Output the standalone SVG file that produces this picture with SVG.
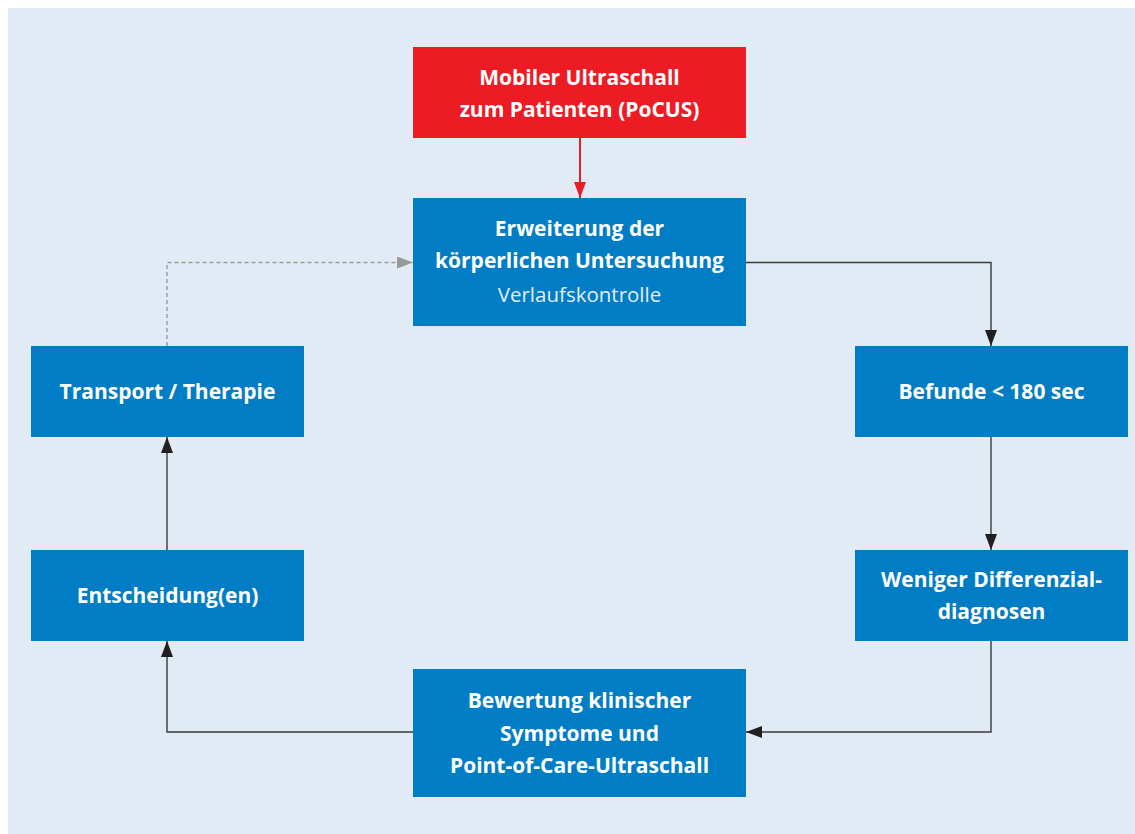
<svg xmlns="http://www.w3.org/2000/svg" width="1135" height="834" viewBox="0 0 1135 834">
<style>
.bg{fill:#e1ebf5}
.node{fill:#007dc5}
.red{fill:#ed1c24}
.t{font-family:"Open Sans","Liberation Sans",sans-serif;font-size:21px;font-weight:bold;fill:#ffffff;text-anchor:middle}
.s{font-family:"Open Sans","Liberation Sans",sans-serif;font-size:20.5px;font-weight:normal;fill:#e3eef8;text-anchor:middle}
.c{fill:none;stroke:#3a3a3c;stroke-width:1.4}
.d{fill:none;stroke:#9a9a9a;stroke-width:1.4;stroke-dasharray:4 3}
.r{fill:none;stroke:#ed1c24;stroke-width:2}
</style>
<defs>
<marker id="ab" markerWidth="16" markerHeight="12" refX="16" refY="6" viewBox="0 0 16 12" markerUnits="userSpaceOnUse" orient="auto"><path d="M0,0 L16,6 L0,12 Z" fill="#231f20"/></marker>
<marker id="ag" markerWidth="16" markerHeight="12" refX="16" refY="6" viewBox="0 0 16 12" markerUnits="userSpaceOnUse" orient="auto"><path d="M0,0 L16,6 L0,12 Z" fill="#999999"/></marker>
<marker id="ar" markerWidth="16" markerHeight="12" refX="16" refY="6" viewBox="0 0 16 12" markerUnits="userSpaceOnUse" orient="auto"><path d="M0,0 L16,6 L0,12 Z" fill="#ed1c24"/></marker>
</defs>
<rect class="bg" x="8" y="8" width="1127" height="826"/>
<g id="connectors">
<path class="r" d="M580,138 L580,198" marker-end="url(#ar)"/>
<path class="c" d="M746,262.5 L991,262.5 L991,346" marker-end="url(#ab)"/>
<path class="c" d="M991,437 L991,550" marker-end="url(#ab)"/>
<path class="c" d="M991,641 L991,732 L746,732" marker-end="url(#ab)"/>
<path class="c" d="M413,732 L167,732 L167,641" marker-end="url(#ab)"/>
<path class="c" d="M167,550 L167,437" marker-end="url(#ab)"/>
<path class="d" d="M167,346 L167,262.5 L413,262.5" marker-end="url(#ag)"/>
</g>
<g id="node-pocus">
<rect class="red" x="413" y="47" width="333" height="91"/>
<text class="t" x="579.5" y="85">Mobiler Ultraschall</text>
<text class="t" x="579.5" y="117">zum Patienten (PoCUS)</text>
</g>
<g id="node-erweiterung">
<rect class="node" x="413" y="198" width="333" height="128"/>
<text class="t" x="579.5" y="236">Erweiterung der</text>
<text class="t" x="579.5" y="268">körperlichen Untersuchung</text>
<text class="s" x="579.5" y="302">Verlaufskontrolle</text>
</g>
<g id="node-befunde">
<rect class="node" x="855" y="346" width="273" height="91"/>
<text class="t" x="991.5" y="399">Befunde &lt; 180 sec</text>
</g>
<g id="node-weniger">
<rect class="node" x="855" y="550" width="273" height="91"/>
<text class="t" x="991.5" y="587">Weniger Differenzial-</text>
<text class="t" x="991.5" y="619">diagnosen</text>
</g>
<g id="node-bewertung">
<rect class="node" x="413" y="669" width="333" height="128"/>
<text class="t" x="579.5" y="708">Bewertung klinischer</text>
<text class="t" x="579.5" y="741">Symptome und</text>
<text class="t" x="579.5" y="773">Point-of-Care-Ultraschall</text>
</g>
<g id="node-entscheidung">
<rect class="node" x="31" y="550" width="273" height="91"/>
<text class="t" x="167.5" y="603">Entscheidung(en)</text>
</g>
<g id="node-transport">
<rect class="node" x="31" y="346" width="273" height="91"/>
<text class="t" x="167.5" y="399">Transport / Therapie</text>
</g>
</svg>
